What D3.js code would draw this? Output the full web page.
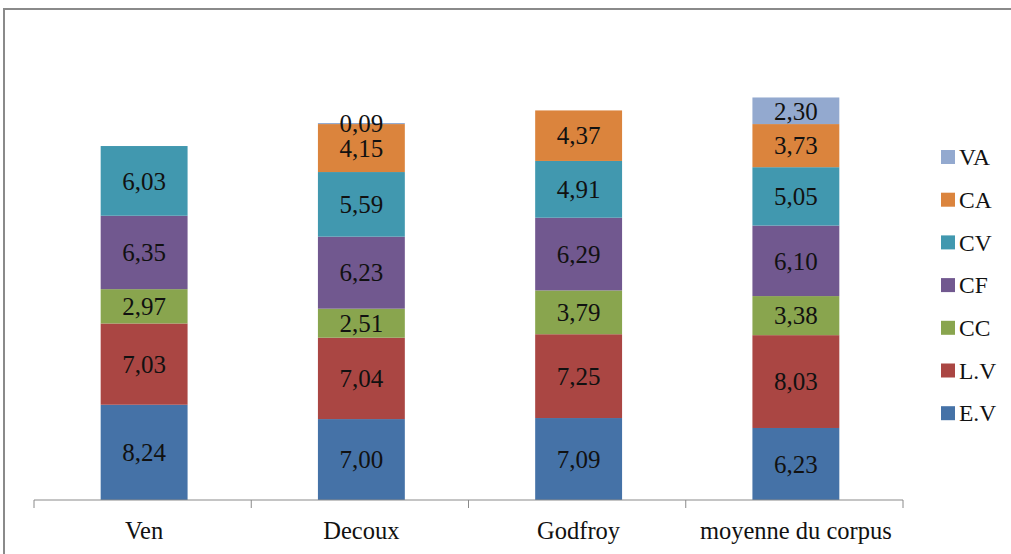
<!DOCTYPE html>
<html>
<head>
<meta charset="utf-8">
<script src="https://cdn.jsdelivr.net/npm/d3@7"></script>
<style>
html,body{margin:0;padding:0;background:#fff;}
svg{display:block;}
</style>
</head>
<body>
<svg id="chart" width="1011" height="554"></svg>
<script>
const categories = ["Ven", "Decoux", "Godfroy", "moyenne du corpus"];
const seriesNames = ["E.V", "L.V", "CC", "CF", "CV", "CA", "VA"];
const EV = [8.24, 7.00, 7.09, 6.23];
const LV = [7.03, 7.04, 7.25, 8.03];
const CC = [2.97, 2.51, 3.79, 3.38];
const CF = [6.35, 6.23, 6.29, 6.10];
const CV = [6.03, 5.59, 4.91, 5.05];
const CA = [0, 4.15, 4.37, 3.73];
const VA = [0, 0.09, 0, 2.30];
const colors = ["#4572A7", "#AA4643", "#89A54E", "#71588F", "#4198AF", "#DB843D", "#93A9CF"];

const seriesValues = [EV, LV, CC, CF, CV, CA, VA];
const rows = categories.map((c, i) => {
  const r = {cat: c};
  seriesNames.forEach((s, j) => r[s] = seriesValues[j][i]);
  return r;
});

const svg = d3.select("#chart");
const serif = "'Liberation Serif','Times New Roman',serif";

// frame
svg.append("path").attr("d", "M4,554 V9 H1011")
  .attr("fill", "none").attr("stroke", "#8a8a8a").attr("stroke-width", 2);

const x = d3.scaleBand().domain(categories).range([34, 903]).padding(0);
const y = d3.scaleLinear().domain([0, 40]).range([500, 37.6]);

const stack = d3.stack().keys(seriesNames);
const stacked = stack(rows);

const barW = x.step() * 0.4;
const color = d3.scaleOrdinal().domain(seriesNames).range(colors);

const g = svg.append("g");
stacked.forEach(layer => {
  const key = layer.key;
  layer.forEach((d, i) => {
    const v = d.data[key];
    if (!v) return;
    const cx = x(d.data.cat) + x.step() / 2 + 1.5;
    g.append("rect")
      .attr("x", cx - barW / 2)
      .attr("y", y(d[1]))
      .attr("width", barW)
      .attr("height", y(d[0]) - y(d[1]))
      .attr("fill", color(key));
  });
});
// labels
stacked.forEach(layer => {
  const key = layer.key;
  layer.forEach((d, i) => {
    const v = d.data[key];
    if (!v) return;
    const cx = x(d.data.cat) + x.step() / 2 + 1.5;
    g.append("text")
      .attr("x", cx)
      .attr("y", (y(d[0]) + y(d[1])) / 2)
      .attr("dy", "0.35em")
      .attr("text-anchor", "middle")
      .attr("font-family", serif)
      .attr("font-size", 25)
      .attr("fill", "#111")
      .text(d3.format(".2f")(v).replace(".", ","));
  });
});

// axis
const ax = svg.append("g").attr("transform", "translate(0,500)");
ax.append("line").attr("x1", 34).attr("x2", 903).attr("y1", 0).attr("y2", 0)
  .attr("stroke", "#8a8a8a").attr("stroke-width", 1);
const ticks = categories.map(c => x(c)).concat([x.range()[1]]);
ax.selectAll(".tk").data(ticks).enter().append("line")
  .attr("x1", d => d).attr("x2", d => d).attr("y1", 0).attr("y2", 8)
  .attr("stroke", "#8a8a8a").attr("stroke-width", 1);
ax.selectAll(".lb").data(categories).enter().append("text")
  .attr("x", d => x(d) + x.step() / 2 + 1.5)
  .attr("y", 39)
  .attr("text-anchor", "middle")
  .attr("font-family", serif)
  .attr("font-size", 24.5)
  .attr("fill", "#111")
  .text(d => d);

// legend
const legendOrder = seriesNames.slice().reverse();
const lg = svg.append("g");
legendOrder.forEach((s, i) => {
  const yy = 157 + i * 42.7;
  lg.append("rect").attr("x", 941).attr("y", yy - 7).attr("width", 14).attr("height", 14)
    .attr("fill", color(s));
  lg.append("text").attr("x", 959).attr("y", yy).attr("dy", "0.35em")
    .attr("font-family", serif).attr("font-size", 23.5).attr("fill", "#111").text(s);
});
</script>
</body>
</html>
